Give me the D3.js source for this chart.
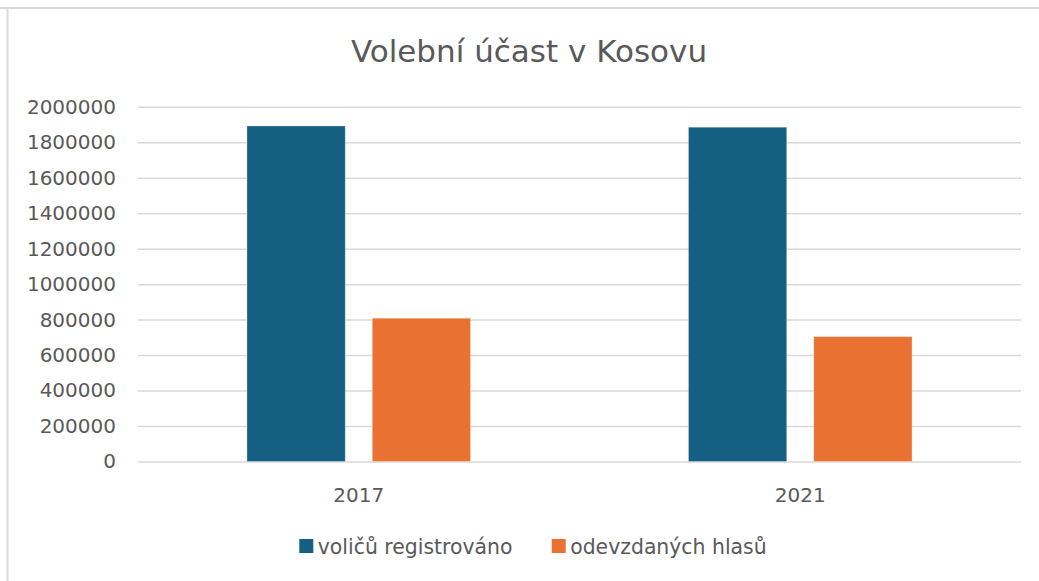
<!DOCTYPE html>
<html>
<head>
<meta charset="utf-8">
<script src="https://cdn.jsdelivr.net/npm/d3@7"></script>
<style>
  body { margin: 0; background: #fff; }
  text { font-family: "DejaVu Sans", sans-serif; fill: #595959; }
</style>
</head>
<body>
<svg></svg>
<script>
const years = ['2017', '2021'];
const seriesNames = ['voličů registrováno', 'odevzdaných hlasů'];
const registered = [1892000, 1885000];
const votesCast = [808000, 704000];
const yTicks = [0, 200000, 400000, 600000, 800000, 1000000, 1200000, 1400000, 1600000, 1800000, 2000000];
const colors = ['#156082', '#E97132'];

let width = 1039;
let height = 581;
let plotLeft = 138, plotRight = 1021, plotTop = 106.8, plotBottom = 461.5;

let svg = d3.select('svg')
            .attr('width', width)
            .attr('height', height);

// chart frame (only top and left edges are visible in the picture)
svg.append('line').attr('x1', 0).attr('x2', width).attr('y1', 8).attr('y2', 8)
   .attr('stroke', '#d9d9d9').attr('stroke-width', 2);
svg.append('line').attr('x1', 7.5).attr('x2', 7.5).attr('y1', 7).attr('y2', height)
   .attr('stroke', '#d9d9d9').attr('stroke-width', 2);

svg.append('text')
   .attr('x', 529)
   .attr('y', 62)
   .attr('text-anchor', 'middle')
   .style('font-size', '31px')
   .text('Volební účast v Kosovu');

let y = d3.scaleLinear().domain([0, 2000000]).range([plotBottom, plotTop]);
let x0 = d3.scaleBand().domain(years).range([plotLeft, plotRight]);
let groupW = x0.bandwidth() * 0.5065;
let x1 = d3.scaleBand().domain(seriesNames)
           .range([(x0.bandwidth() - groupW) / 2, (x0.bandwidth() + groupW) / 2])
           .paddingInner(0.2155);

let yAxis = d3.axisLeft(y).tickValues(yTicks).tickSize(-(plotRight - plotLeft)).tickPadding(22)
              .tickFormat(d => String(d));
let gy = svg.append('g').attr('transform', `translate(${plotLeft},0)`).call(yAxis);
gy.select('.domain').remove();
gy.selectAll('.tick line').attr('stroke', '#d9d9d9').attr('stroke-width', 1.5);
gy.selectAll('.tick text').style('font-size', '20px').attr('fill', '#595959');

let rows = years.map((yr, i) => ({ year: yr, values: [registered[i], votesCast[i]] }));

let groups = svg.selectAll('g.year').data(rows).enter().append('g')
                .attr('class', 'year')
                .attr('transform', d => `translate(${x0(d.year)},0)`);

groups.selectAll('rect')
      .data(d => d.values.map((v, j) => ({ name: seriesNames[j], value: v, j: j })))
      .enter().append('rect')
      .attr('x', d => x1(d.name))
      .attr('width', x1.bandwidth())
      .attr('y', d => y(d.value))
      .attr('height', d => y(0) - y(d.value))
      .attr('fill', d => colors[d.j])
      .attr('stroke', '#ffffff')
      .attr('stroke-opacity', 0.4)
      .attr('stroke-width', 0.8);

let xAxis = d3.axisBottom(x0).tickSize(0).tickPadding(26);
let gx = svg.append('g').attr('transform', `translate(0,${plotBottom})`).call(xAxis);
gx.select('.domain').remove();
gx.selectAll('.tick text').style('font-size', '20px').attr('fill', '#595959');

// legend
let legendX = [299.3, 551.7];
let legend = svg.selectAll('g.legend').data(seriesNames).enter().append('g')
                .attr('class', 'legend')
                .attr('transform', (d, i) => `translate(${legendX[i]},539)`);
legend.append('rect').attr('width', 14).attr('height', 14).attr('fill', (d, i) => colors[i]);
legend.append('text').attr('x', 18.5).attr('y', 14.5).style('font-size', '20.4px').text(d => d);
</script>
</body>
</html>
